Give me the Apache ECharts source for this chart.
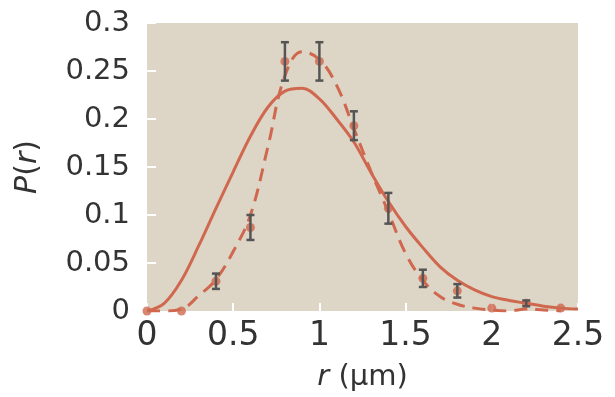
<!DOCTYPE html>
<html>
<head>
<meta charset="utf-8">
<script src="https://cdn.jsdelivr.net/npm/echarts@6/dist/echarts.min.js"></script>
<style>
  html, body { margin: 0; padding: 0; background: #fff; }
  #main { width: 615px; height: 397px; }
</style>
</head>
<body>
<div id="main"></div>
<script>
// measured points with error bars
const pointR = [0, 0.2, 0.4, 0.6, 0.8, 1.0, 1.2, 1.4, 1.6, 1.8, 2.0, 2.2, 2.4]
const pointP = [0, 0, 0.031, 0.087, 0.26, 0.26, 0.193, 0.107, 0.034, 0.021, 0.003, 0.008, 0.003]
const pointErr = [0, 0, 0.008, 0.013, 0.02, 0.02, 0.015, 0.016, 0.009, 0.007, 0, 0.003, 0]

// solid fit curve
const solidR = [0, 0.1, 0.2, 0.3, 0.4, 0.5, 0.6, 0.7, 0.8, 0.9, 1.0, 1.1, 1.2, 1.3, 1.4, 1.5, 1.6, 1.7, 1.8, 1.9, 2.0, 2.1, 2.2, 2.3, 2.4, 2.5]
const solidP = [0, 0.008, 0.032, 0.068, 0.107, 0.145, 0.182, 0.212, 0.229, 0.232, 0.221, 0.2, 0.176, 0.144, 0.114, 0.088, 0.066, 0.046, 0.032, 0.022, 0.015, 0.011, 0.008, 0.005, 0.003, 0.002]

// dashed curve
const dashR = [0, 0.1, 0.2, 0.3, 0.4, 0.5, 0.6, 0.7, 0.8, 0.9, 1.0, 1.1, 1.2, 1.3, 1.4, 1.5, 1.6, 1.7, 1.8, 1.9, 2.0, 2.1, 2.2, 2.3, 2.4]
const dashP = [0, 0, 0.002, 0.016, 0.033, 0.062, 0.1, 0.17, 0.245, 0.27, 0.262, 0.235, 0.19, 0.145, 0.103, 0.06, 0.032, 0.015, 0.007, 0.003, 0.001, 0, 0.002, 0.001, 0]

const xTicks = [0, 0.5, 1, 1.5, 2, 2.5]
const yTicks = [0, 0.05, 0.1, 0.15, 0.2, 0.25, 0.3]

const red = '#d0684f'
const font = 'DejaVu Sans'

const chart = echarts.init(document.getElementById('main'))

const option = {
  animation: false,
  grid: {
    left: 147,
    right: 37,
    top: 23,
    bottom: 85,
    show: true,
    backgroundColor: '#ddd6c6',
    borderWidth: 0
  },
  xAxis: {
    type: 'value',
    min: xTicks[0],
    max: xTicks[xTicks.length - 1],
    interval: 0.5,
    name: '{i|r} (μm)',
    nameLocation: 'middle',
    nameGap: 52,
    nameTextStyle: {
      fontFamily: font,
      fontSize: 29,
      color: '#333',
      rich: { i: { fontFamily: font, fontSize: 29, fontStyle: 'italic', color: '#333' } }
    },
    axisLine: { show: false },
    axisTick: { show: true, inside: true, length: 8, lineStyle: { color: '#fff', width: 2 } },
    splitLine: { show: false },
    axisLabel: { fontFamily: font, fontSize: 33, color: '#333', margin: 9 }
  },
  yAxis: {
    type: 'value',
    min: yTicks[0],
    max: yTicks[yTicks.length - 1],
    interval: 0.05,
    name: '{i|P}({i|r})',
    nameLocation: 'middle',
    nameGap: 104,
    nameTextStyle: {
      fontFamily: font,
      fontSize: 30,
      color: '#333',
      rich: { i: { fontFamily: font, fontSize: 30, fontStyle: 'italic', color: '#333' } }
    },
    axisLine: { show: false },
    axisTick: { show: true, inside: true, length: 9, lineStyle: { color: '#fff', width: 2 } },
    splitLine: { show: false },
    axisLabel: { fontFamily: font, fontSize: 29, color: '#333', margin: 17 }
  },
  series: [
    {
      type: 'line',
      data: solidR.map((r, i) => [r, solidP[i]]),
      smooth: 0.35,
      showSymbol: false,
      lineStyle: { color: red, width: 3 },
      z: 2
    },
    {
      type: 'line',
      data: dashR.map((r, i) => [r, dashP[i]]),
      smooth: 0.4,
      showSymbol: false,
      lineStyle: { color: red, width: 3, type: [13, 8] },
      z: 2
    },
    {
      type: 'scatter',
      data: pointR.map((r, i) => [r, pointP[i]]),
      symbol: 'circle',
      symbolSize: 9,
      itemStyle: { color: red },
      z: 3
    },
    {
      type: 'custom',
      data: pointR.map((r, i) => [r, pointP[i] - pointErr[i], pointP[i] + pointErr[i]]),
      renderItem: (params, api) => {
        if (api.value(2) - api.value(1) <= 0) return null
        const lo = api.coord([api.value(0), api.value(1)])
        const hi = api.coord([api.value(0), api.value(2)])
        const half = 4
        const style = { stroke: '#555', lineWidth: 2.5 }
        return {
          type: 'group',
          children: [
            { type: 'line', shape: { x1: lo[0], y1: lo[1], x2: hi[0], y2: hi[1] }, style },
            { type: 'line', shape: { x1: lo[0] - half, y1: lo[1], x2: lo[0] + half, y2: lo[1] }, style },
            { type: 'line', shape: { x1: hi[0] - half, y1: hi[1], x2: hi[0] + half, y2: hi[1] }, style }
          ]
        }
      },
      z: 4
    }
  ]
}

chart.setOption(option)
</script>
</body>
</html>
